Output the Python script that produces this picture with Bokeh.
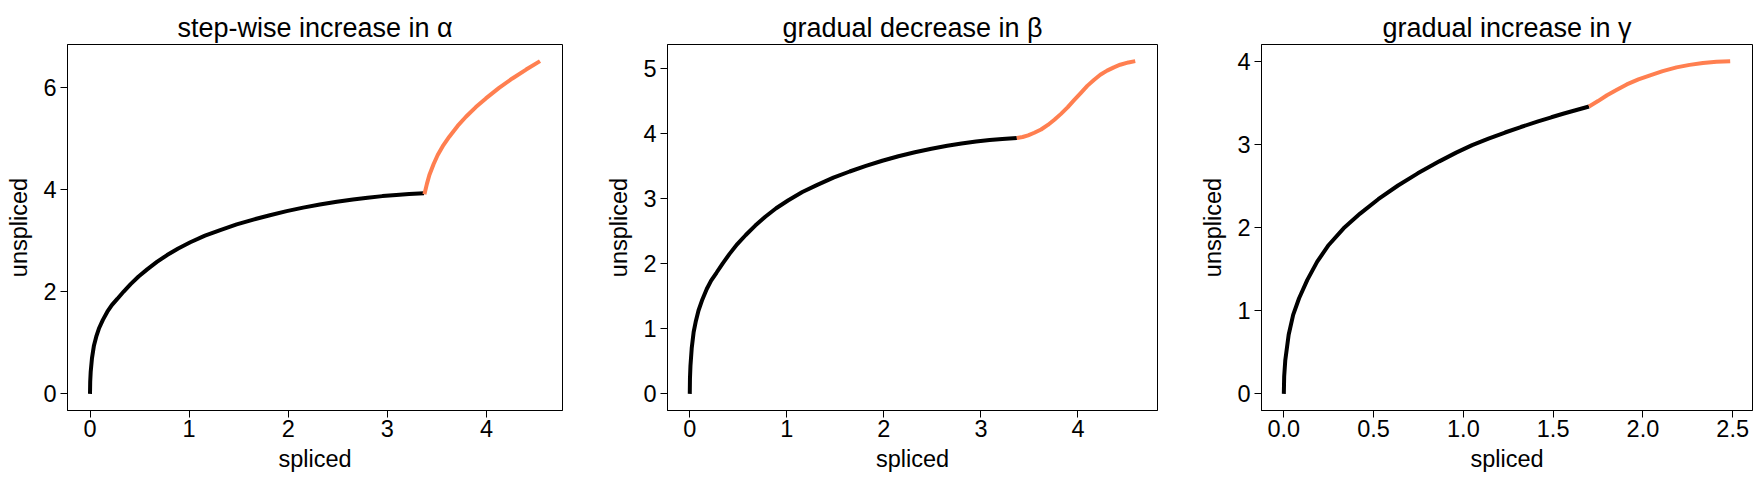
from bokeh.plotting import figure
from bokeh.layouts import row
from bokeh.models import Range1d, FixedTicker
from bokeh.embed import file_html
from bokeh.resources import INLINE

# ---------------- data ----------------
titles = ["step-wise increase in α", "gradual decrease in β", "gradual increase in γ"]
x_label = "spliced"
y_label = "unspliced"

# black trajectory shared by panel 1 and panel 2
black_s_ab = [0.0, 0.002, 0.007, 0.02, 0.04, 0.063, 0.09, 0.13, 0.175, 0.22, 0.275,
              0.34, 0.41, 0.49, 0.577, 0.675, 0.778, 0.89, 1.012, 1.16, 1.314,
              1.48, 1.648, 1.815, 1.984, 2.15, 2.319, 2.49, 2.653, 2.80, 2.95,
              3.09, 3.22, 3.37]
black_u_ab = [0.0, 0.237, 0.43, 0.70, 0.95, 1.12, 1.28, 1.45, 1.61, 1.74, 1.86,
              2.005, 2.15, 2.30, 2.44, 2.585, 2.72, 2.85, 2.97, 3.10, 3.21,
              3.32, 3.415, 3.50, 3.58, 3.65, 3.71, 3.765, 3.81, 3.845, 3.875,
              3.898, 3.915, 3.93]

# panel 1: step-wise increase in alpha
orange_s_a = [3.374, 3.399, 3.424, 3.466, 3.508, 3.566, 3.625, 3.709, 3.793, 3.893,
              3.994, 4.127, 4.261, 4.40, 4.54]
orange_u_a = [3.91, 4.115, 4.29, 4.50, 4.68, 4.875, 5.04, 5.25, 5.43, 5.62,
              5.79, 5.995, 6.18, 6.355, 6.52]

# panel 2: gradual decrease in beta
orange_s_b = [3.37, 3.43, 3.486, 3.55, 3.62, 3.69, 3.757, 3.825, 3.893, 3.96,
              4.028, 4.096, 4.164, 4.23, 4.30, 4.37, 4.435, 4.52, 4.59]
orange_u_b = [3.93, 3.945, 3.97, 4.01, 4.06, 4.13, 4.21, 4.30, 4.40, 4.51,
              4.62, 4.73, 4.82, 4.90, 4.965, 5.015, 5.055, 5.09, 5.11]

# panel 3: gradual increase in gamma
black_s_g = [0.0, 0.002, 0.008, 0.027, 0.052, 0.085, 0.131, 0.186, 0.25, 0.333,
             0.425, 0.526, 0.636, 0.746, 0.866, 0.96, 1.049, 1.14, 1.232, 1.32,
             1.416, 1.49, 1.56, 1.63, 1.70]
black_u_g = [0.0, 0.21, 0.40, 0.71, 0.95, 1.15, 1.37, 1.59, 1.79, 1.99,
             2.167, 2.34, 2.505, 2.651, 2.795, 2.90, 2.99, 3.068, 3.142, 3.208,
             3.275, 3.325, 3.37, 3.413, 3.455]
orange_s_g = [1.70, 1.75, 1.80, 1.855, 1.91, 1.975, 2.04, 2.11, 2.187, 2.26,
              2.334, 2.41, 2.486]
orange_u_g = [3.455, 3.52, 3.59, 3.655, 3.72, 3.78, 3.83, 3.88, 3.925, 3.955,
              3.978, 3.993, 4.00]

# ticks
x_ticks = [[0, 1, 2, 3, 4], [0, 1, 2, 3, 4], [0.0, 0.5, 1.0, 1.5, 2.0, 2.5]]
x_tick_labels = [["0", "1", "2", "3", "4"], ["0", "1", "2", "3", "4"],
                 ["0.0", "0.5", "1.0", "1.5", "2.0", "2.5"]]
y_ticks = [[0, 2, 4, 6], [0, 1, 2, 3, 4, 5], [0, 1, 2, 3, 4]]
y_tick_labels = [["0", "2", "4", "6"], ["0", "1", "2", "3", "4", "5"],
                 ["0", "1", "2", "3", "4"]]

BLACK = "#000000"
ORANGE = "#ff7f50"
FONT = "Liberation Sans"


def padded(vals):
    lo, hi = min(vals), max(vals)
    span = hi - lo
    return Range1d(lo - 0.05 * span, hi + 0.05 * span)


def make_panel(i, curves, width, border_left, border_right):
    all_s = [v for c in curves for v in c[0]]
    all_u = [v for c in curves for v in c[1]]
    p = figure(width=width, height=480, output_backend="svg", toolbar_location=None,
               x_range=padded(all_s), y_range=padded(all_u), title=titles[i],
               min_border_left=border_left, min_border_right=border_right,
               min_border_top=44, min_border_bottom=70)
    p.background_fill_color = "white"
    p.border_fill_color = "white"
    p.outline_line_color = "black"
    p.outline_line_width = 1
    p.outline_line_alpha = 1.0
    p.xgrid.visible = False
    p.ygrid.visible = False

    p.title.text_font = FONT
    p.title.text_font_size = "27px"
    p.title.text_font_style = "normal"
    p.title.text_color = "black"
    p.title.align = "center"
    p.title.standoff = 4

    for ax in (p.xaxis[0], p.yaxis[0]):
        ax.axis_line_color = "black"
        ax.axis_line_width = 1
        ax.major_tick_line_color = "black"
        ax.major_tick_line_width = 1
        ax.major_tick_out = 7
        ax.major_tick_in = 0
        ax.minor_tick_out = 0
        ax.minor_tick_in = 0
        ax.major_label_text_font = FONT
        ax.major_label_text_font_size = "23.5px"
        ax.major_label_text_color = "black"
        ax.axis_label_text_font = FONT
        ax.axis_label_text_font_size = "23.5px"
        ax.axis_label_text_font_style = "normal"
        ax.axis_label_text_color = "black"

    p.xaxis[0].axis_label = x_label
    p.yaxis[0].axis_label = y_label
    p.xaxis[0].ticker = FixedTicker(ticks=x_ticks[i])
    p.yaxis[0].ticker = FixedTicker(ticks=y_ticks[i])
    p.xaxis[0].major_label_overrides = {t: l for t, l in zip(x_ticks[i], x_tick_labels[i])}
    p.yaxis[0].major_label_overrides = {t: l for t, l in zip(y_ticks[i], y_tick_labels[i])}
    p.xaxis[0].major_label_standoff = 2
    p.yaxis[0].major_label_standoff = 4
    p.xaxis[0].axis_label_standoff = 6
    p.yaxis[0].axis_label_standoff = 8

    for (s, u), col in zip(curves, [BLACK, ORANGE]):
        p.line(s, u, line_color=col, line_width=4)
    return p


p1 = make_panel(0, [(black_s_ab, black_u_ab), (orange_s_a, orange_u_a)], 603, 67, 41)
p2 = make_panel(1, [(black_s_ab, black_u_ab), (orange_s_b, orange_u_b)], 594, 59, 40)
p3 = make_panel(2, [(black_s_g, black_u_g), (orange_s_g, orange_u_g)], 558, 59, 3)

layout = row(p1, p2, p3)
open("out.html", "w").write(file_html(layout, INLINE))
